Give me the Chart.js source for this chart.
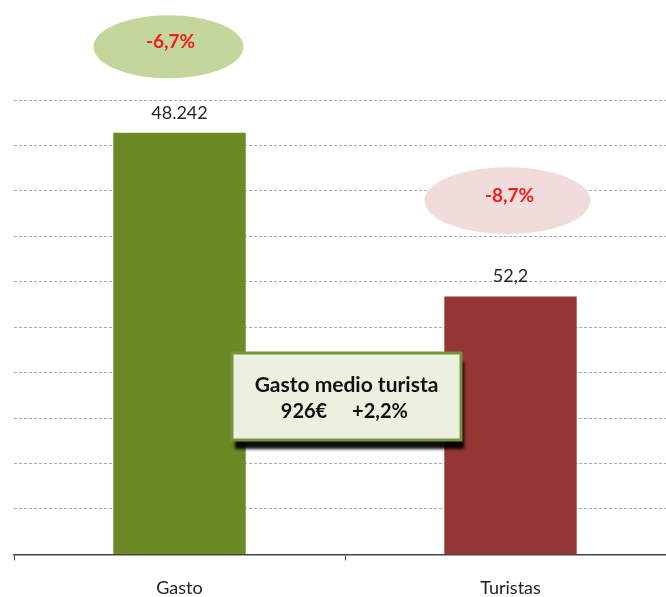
<!DOCTYPE html>
<html>
<head>
<meta charset="utf-8">
<script src="https://cdn.jsdelivr.net/npm/chart.js@4"></script>
<style>
  html, body { margin: 0; padding: 0; background: #fff; overflow: hidden; }
  #wrap { width: 680px; height: 616px; }
</style>
</head>
<body>
<div id="wrap"><canvas id="mychart" width="680" height="616"></canvas></div>
<script>
let categories = ['Gasto', 'Turistas'];
let gastoValues = [48242, null];      // millones de euros
let turistasValues = [null, 52.2];    // millones de turistas
let valueLabels = ['48.242', '52,2'];
let changeLabels = ['-6,7%', '-8,7%'];
let boxTitle = 'Gasto medio turista';
let boxValue = '926€';
let boxChange = '+2,2%';

let font = 'Lato, "Open Sans", sans-serif';

// ellipse style per bar: offset above the bar top, colour
let bubbles = [
  {dx: -11, dy: 86, w: 150, h: 63, fill: '#c3d69b'},
  {dx: -3, dy: 96, w: 166, h: 67, fill: '#f2dcdb'}
];

let overlay = {
  id: 'overlay',
  afterDatasetsDraw(chart) {
    let ctx = chart.ctx;
    ctx.save();
    chart.data.datasets.forEach((ds, i) => {
      let bar = chart.getDatasetMeta(i).data[i];
      ctx.fillStyle = '#262626';
      ctx.font = '18px ' + font;
      ctx.textAlign = 'center';
      ctx.textBaseline = 'middle';
      ctx.fillText(valueLabels[i], bar.x, bar.y - 20);

      let b = bubbles[i];
      ctx.beginPath();
      ctx.ellipse(bar.x + b.dx, bar.y - b.dy, b.w / 2, b.h / 2, 0, 0, Math.PI * 2);
      ctx.fillStyle = b.fill;
      ctx.fill();
      ctx.fillStyle = '#f01e1e';
      ctx.font = 'bold 19px ' + font;
      ctx.fillText(changeLabels[i], bar.x + b.dx + 2, bar.y - b.dy - 5);
    });

    // cuadro gasto medio
    let area = chart.chartArea;
    let bx = area.left + 218, by = area.top + 253, bw = 229, bh = 87;
    ctx.save();
    ctx.shadowColor = 'rgba(0,0,0,0.95)';
    ctx.shadowBlur = 3;
    ctx.shadowOffsetX = 3;
    ctx.shadowOffsetY = 9;
    ctx.fillStyle = '#ebf1de';
    ctx.fillRect(bx, by, bw, bh);
    ctx.restore();
    ctx.strokeStyle = '#77933c';
    ctx.lineWidth = 3;
    ctx.strokeRect(bx, by, bw, bh);
    ctx.fillStyle = '#111';
    ctx.font = 'bold 21px ' + font;
    ctx.textAlign = 'center';
    ctx.textBaseline = 'middle';
    ctx.fillText(boxTitle, bx + bw / 2, by + 32);
    ctx.font = 'bold 20px ' + font;
    ctx.fillText(boxValue, bx + 72, by + 59);
    ctx.fillText(boxChange, bx + 148, by + 59);
    ctx.restore();
  }
};

let ctx = document.getElementById('mychart').getContext('2d');
let myChart = new Chart(ctx, {
  type: 'bar',
  data: {
    labels: categories,
    datasets: [{
      label: 'Gasto',
      data: gastoValues,
      backgroundColor: '#6b8a23',
      yAxisID: 'y',
      grouped: false,
      barPercentage: 0.4,
      categoryPercentage: 1
    }, {
      label: 'Turistas',
      data: turistasValues,
      backgroundColor: '#943634',
      yAxisID: 'y2',
      grouped: false,
      barPercentage: 0.4,
      categoryPercentage: 1
    }]
  },
  options: {
    responsive: false,
    animation: false,
    layout: { padding: { left: 14, right: 4, top: 100, bottom: 0 } },
    plugins: { legend: { display: false }, tooltip: { enabled: false } },
    scales: {
      x: {
        grid: { display: true, drawOnChartArea: false, drawTicks: true, tickLength: 6, color: '#444', offset: true },
        border: { display: true, color: '#444', width: 1.5 },
        ticks: { color: '#222', font: { family: font, size: 18 }, padding: 17 }
      },
      y: {
        min: 0,
        max: 52000,
        ticks: { display: false, stepSize: 5200 },
        grid: { color: '#aaaaaa', drawTicks: false, lineWidth: 1 },
        border: { display: false, dash: [3, 2] }
      },
      y2: {
        min: 0,
        max: 92,
        display: false
      }
    }
  },
  plugins: [overlay]
});
</script>
</body>
</html>
